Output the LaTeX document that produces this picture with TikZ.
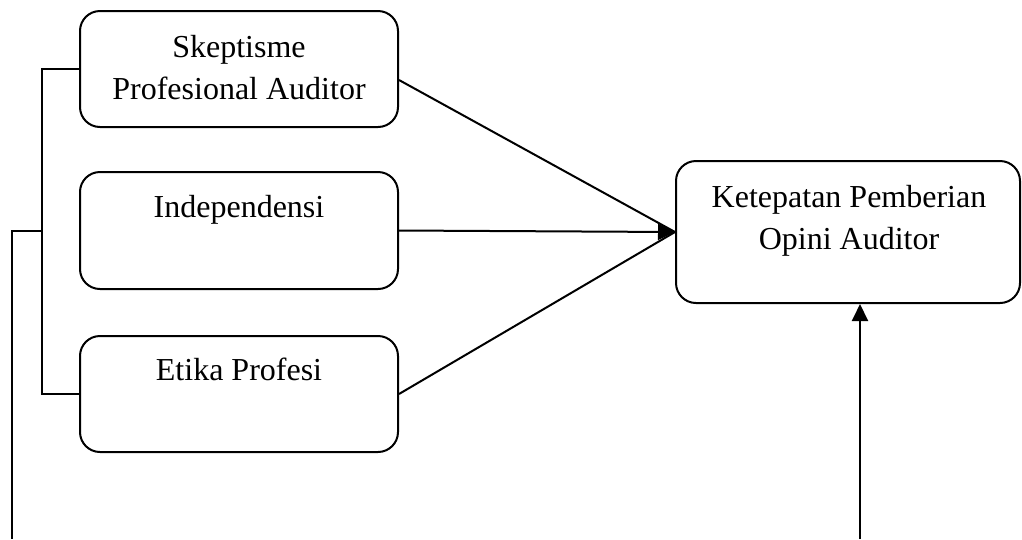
\documentclass[tikz,border=0pt]{standalone}
\usepackage{fontspec}
\setmainfont{Liberation Serif}
\usetikzlibrary{arrows.meta,calc}
\tikzset{
  box/.style={draw, line width=2pt, rounded corners=20pt, inner sep=0pt},
  lbl/.style={anchor=base, inner sep=0pt, font=\fontsize{32}{42}\selectfont},
  conn/.style={line width=2pt},
  arr/.style={line width=2pt, -{Triangle[length=17pt,width=16pt]}},
}
\begin{document}
\begin{tikzpicture}[x=1pt,y=-1pt]
\useasboundingbox (0,0) rectangle (1022,539);
% boxes
\node[box, minimum width=318pt, minimum height=116pt] (sk) at (239,69) {};
\node[box, minimum width=318pt, minimum height=117pt] (ind) at (239,230.5) {};
\node[box, minimum width=318pt, minimum height=116pt] (et) at (239,394) {};
\node[box, minimum width=344pt, minimum height=142pt] (ket) at (848,232) {};
% texts
\node[lbl] (skA) at (239,57) {Skeptisme};
\node[lbl] (skB) at (239,99) {Profesional Auditor};
\node[lbl] (indA) at (239,217) {Independensi};
\node[lbl] (etA) at (239,380) {Etika Profesi};
\node[lbl] (ketA) at (849,207) {Ketepatan Pemberian};
\node[lbl] (ketB) at (849,249) {Opini Auditor};
% coordinates
\coordinate (j) at (42,231);
\coordinate (l) at (12,231);
\coordinate (lb) at (12,539);
\coordinate (bb) at (860,539);
% bracket
\draw[conn] (sk.west) -- (sk.west -| j) -- (et.west -| j) -- (et.west);
\draw[conn] (j) -- (l) -- (lb);
% arrows
\draw[conn] ([yshift=-11pt]sk.east) -- (ket.west);
\draw[conn] (et.east) -- (ket.west);
\draw[arr] (ind.east) -- (ket.west);
\draw[arr] (bb) -- (bb |- ket.south);
\end{tikzpicture}
\end{document}
